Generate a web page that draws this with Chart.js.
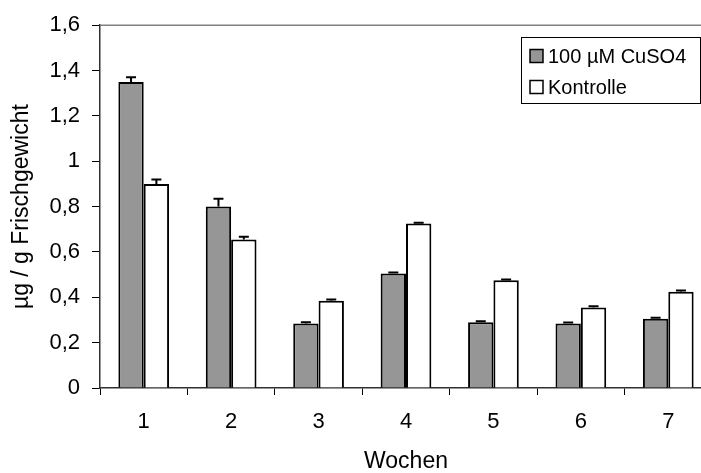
<!DOCTYPE html>
<html>
<head>
<meta charset="utf-8">
<script src="https://cdn.jsdelivr.net/npm/chart.js@4"></script>
<style>
  html, body { margin: 0; padding: 0; background: #fff; overflow: hidden; }
  #wrap { width: 714px; height: 473px; }
</style>
</head>
<body>
<div id="wrap"><canvas id="chart" width="714" height="473"></canvas></div>
<script>
// data
const weeks = ['1', '2', '3', '4', '5', '6', '7'];
const cuso4 = [1.35, 0.80, 0.285, 0.505, 0.29, 0.285, 0.305];
const cuso4Err = [0.02, 0.035, 0.005, 0.004, 0.004, 0.004, 0.005];
const kontrolle = [0.90, 0.655, 0.385, 0.725, 0.475, 0.355, 0.425];
const kontrolleErr = [0.02, 0.012, 0.005, 0.004, 0.004, 0.005, 0.005];
const yTickLabels = ['0', '0,2', '0,4', '0,6', '0,8', '1', '1,2', '1,4', '1,6'];

const FONT = "'Liberation Sans', Arial, sans-serif";
const errors = [cuso4Err, kontrolleErr];

// error bars (upper half only, with caps)
const errorBars = {
    id: 'errorBars',
    afterDatasetsDraw(chart) {
        const ctx = chart.ctx;
        const y = chart.scales.y;
        ctx.save();
        ctx.strokeStyle = '#000';
        ctx.lineWidth = 2;
        chart.data.datasets.forEach((ds, i) => {
            const meta = chart.getDatasetMeta(i);
            meta.data.forEach((bar, j) => {
                const top = y.getPixelForValue(ds.data[j] + errors[i][j]);
                ctx.beginPath();
                ctx.moveTo(bar.x, bar.y);
                ctx.lineTo(bar.x, top);
                ctx.moveTo(bar.x - 5, top);
                ctx.lineTo(bar.x + 5, top);
                ctx.stroke();
            });
        });
        ctx.restore();
    }
};

// top border of the plot + boxed legend
const frameAndLegend = {
    id: 'frameAndLegend',
    afterDraw(chart) {
        const ctx = chart.ctx;
        const a = chart.chartArea;
        ctx.save();
        ctx.strokeStyle = '#808080';
        ctx.lineWidth = 1.5;
        ctx.beginPath();
        ctx.moveTo(a.left, a.top);
        ctx.lineTo(a.right, a.top);
        ctx.stroke();

        // legend box
        const bx = 521.5, by = 37.5, bw = 179, bh = 66;
        ctx.fillStyle = '#fff';
        ctx.fillRect(bx, by, bw, bh);
        ctx.strokeStyle = '#000';
        ctx.lineWidth = 1;
        ctx.strokeRect(bx, by, bw, bh);

        ctx.font = '20px ' + FONT;
        ctx.textBaseline = 'middle';
        ctx.textAlign = 'left';
        const rows = [56, 87];
        chart.data.datasets.forEach((ds, i) => {
            const cy = rows[i];
            ctx.fillStyle = ds.backgroundColor;
            ctx.fillRect(530, cy - 6.5, 13, 13);
            ctx.strokeStyle = '#000';
            ctx.lineWidth = 1.5;
            ctx.strokeRect(530, cy - 6.5, 13, 13);
            ctx.fillStyle = '#000';
            ctx.fillText(ds.label, 548, cy + 1);
        });
        ctx.restore();
    }
};

new Chart(document.getElementById('chart'), {
    type: 'bar',
    data: {
        labels: weeks,
        datasets: [
            {
                label: '100 µM CuSO4',
                data: cuso4,
                backgroundColor: '#969696',
                borderColor: '#000',
                borderWidth: 2,
                barPercentage: 1,
                categoryPercentage: 0.58
            },
            {
                label: 'Kontrolle',
                data: kontrolle,
                backgroundColor: '#ffffff',
                borderColor: '#000',
                borderWidth: 2,
                barPercentage: 1,
                categoryPercentage: 0.58
            }
        ]
    },
    options: {
        responsive: false,
        animation: false,
        devicePixelRatio: 1,
        layout: { padding: { top: 25, right: 2, left: 0, bottom: 0 } },
        plugins: {
            legend: { display: false },
            tooltip: { enabled: false }
        },
        scales: {
            x: {
                offset: true,
                afterFit: (scale) => { scale.height = 85; },
                grid: {
                    display: true,
                    offset: true,
                    drawOnChartArea: false,
                    drawTicks: true,
                    tickLength: 7,
                    color: '#000'
                },
                border: { display: true, color: '#303030', width: 1.5 },
                ticks: {
                    color: '#000',
                    font: { family: FONT, size: 22 },
                    padding: 14,
                    maxRotation: 0
                },
                title: {
                    display: true,
                    text: 'Wochen',
                    color: '#000',
                    font: { family: FONT, size: 23, lineHeight: 1 },
                    padding: { top: 0, bottom: 0 }
                }
            },
            y: {
                min: 0,
                max: 1.6,
                afterFit: (scale) => { scale.width = 100; },
                afterBuildTicks: (scale) => {
                    scale.ticks = yTickLabels.map((t, i) => ({ value: i * 0.2 }));
                },
                grid: {
                    display: true,
                    drawOnChartArea: false,
                    drawTicks: true,
                    tickLength: 8,
                    color: '#000'
                },
                border: { display: true, color: '#303030', width: 1.5 },
                ticks: {
                    color: '#000',
                    font: { family: FONT, size: 22 },
                    padding: 12,
                    callback: (value, index) => yTickLabels[index]
                },
                title: {
                    display: true,
                    text: 'µg / g Frischgewicht',
                    color: '#000',
                    font: { family: FONT, size: 23, lineHeight: 1 },
                    padding: { top: 10, bottom: 0 }
                }
            }
        }
    },
    plugins: [errorBars, frameAndLegend]
});
</script>
</body>
</html>
